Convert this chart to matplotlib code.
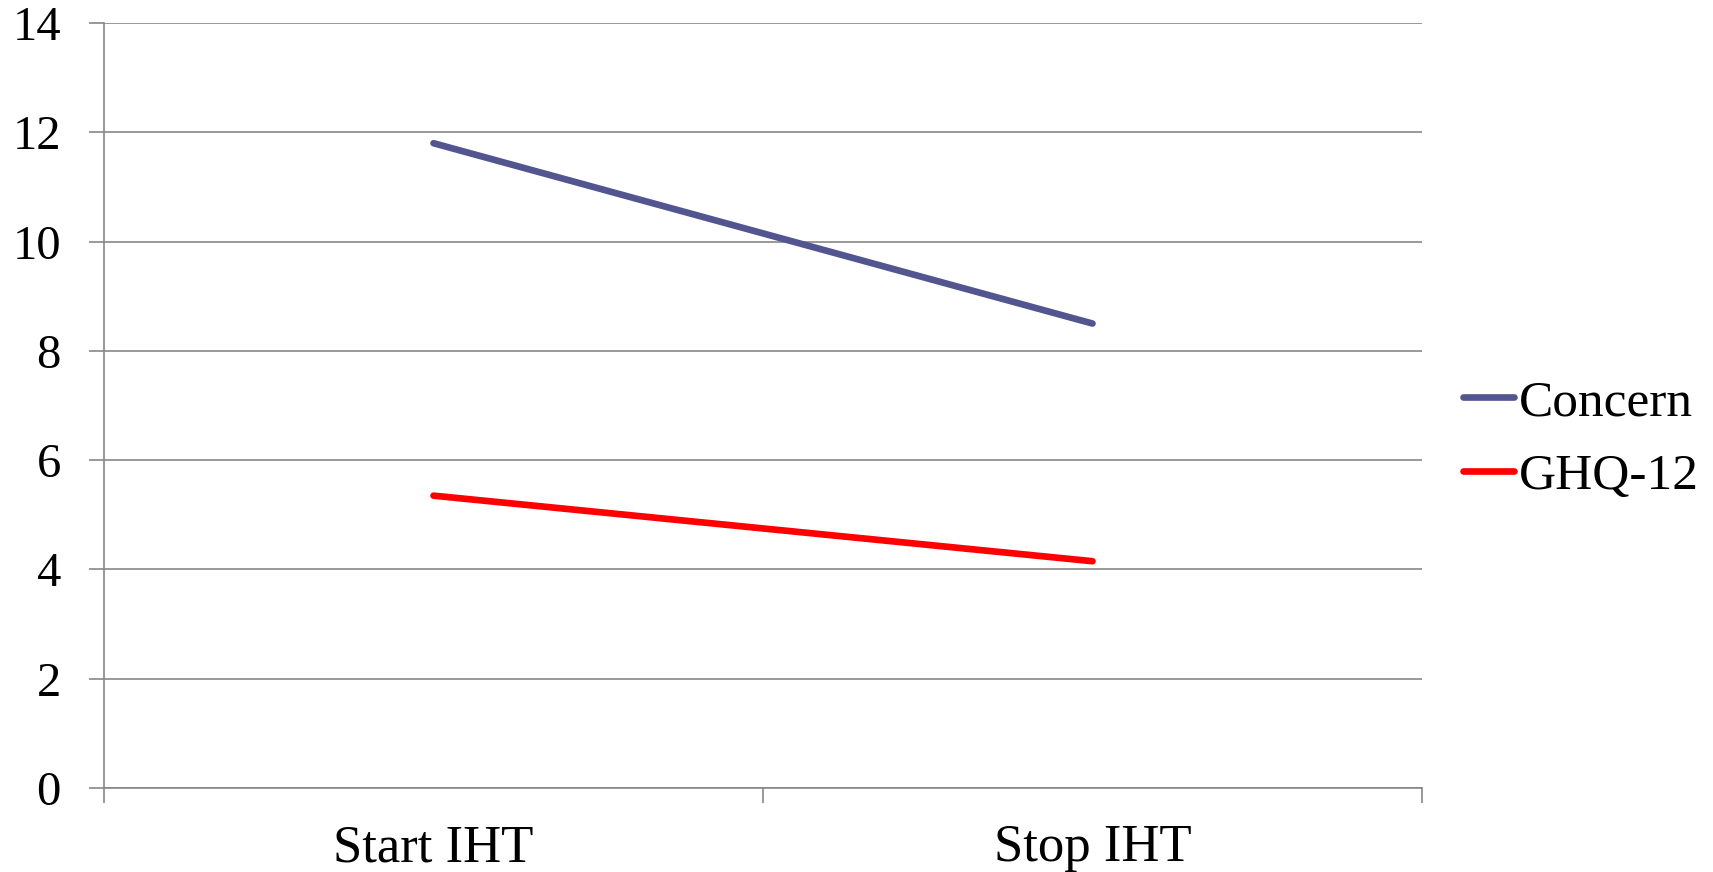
import matplotlib
matplotlib.use("Agg")
import matplotlib.pyplot as plt
from matplotlib.ticker import FixedLocator

categories = ["Start IHT", "Stop IHT"]
concern = [11.8, 8.5]
ghq12 = [5.35, 4.15]
series_names = ["Concern", "GHQ-12"]
yticks = [0, 2, 4, 6, 8, 10, 12, 14]

plt.rcParams['font.family'] = ['Liberation Serif', 'DejaVu Serif']

fig = plt.figure(figsize=(17.13, 8.72), dpi=100)
ax = fig.add_axes([104/1713, 1-788/872, (1422-104)/1713, (788-23)/872])

x = list(range(len(categories)))
grid_c = "#878787"
ax.plot(x, concern, color="#52558F", lw=4.8, solid_capstyle="round", label=series_names[0], zorder=3)
ax.plot(x, ghq12, color="#FF0000", lw=4.8, solid_capstyle="round", label=series_names[1], zorder=3)

ax.set_xlim(-0.5, len(categories) - 0.5)
ax.set_ylim(0, 14)
ax.set_yticks(yticks)
ax.set_yticklabels([str(v) for v in yticks], fontsize=35)
ax.yaxis.grid(True, color=grid_c, lw=1.2)
ax.set_axisbelow(True)

ax.xaxis.set_major_locator(FixedLocator([-0.5, 0.5, 1.5]))
ax.set_xticklabels(["", "", ""])
ax.xaxis.set_minor_locator(FixedLocator(x))
ax.set_xticklabels(categories, minor=True, fontsize=38)
ax.tick_params(axis="x", which="minor", length=0, pad=26)
ax.tick_params(axis="x", which="major", length=11, width=1.2, color=grid_c)
ax.tick_params(axis="y", length=11, width=1.2, color=grid_c, pad=20)

for s in ["top", "right"]:
    ax.spines[s].set_visible(False)
for s in ["left", "bottom"]:
    ax.spines[s].set_color(grid_c)
    ax.spines[s].set_linewidth(1.2)

fig.legend(loc="center left", bbox_to_anchor=(1463/1713, 0.4956), frameon=False,
           fontsize=37, handlelength=1.0, handletextpad=0.08, labelspacing=0.52,
           borderpad=0, borderaxespad=0)

fig.savefig("out.png", dpi=100)
